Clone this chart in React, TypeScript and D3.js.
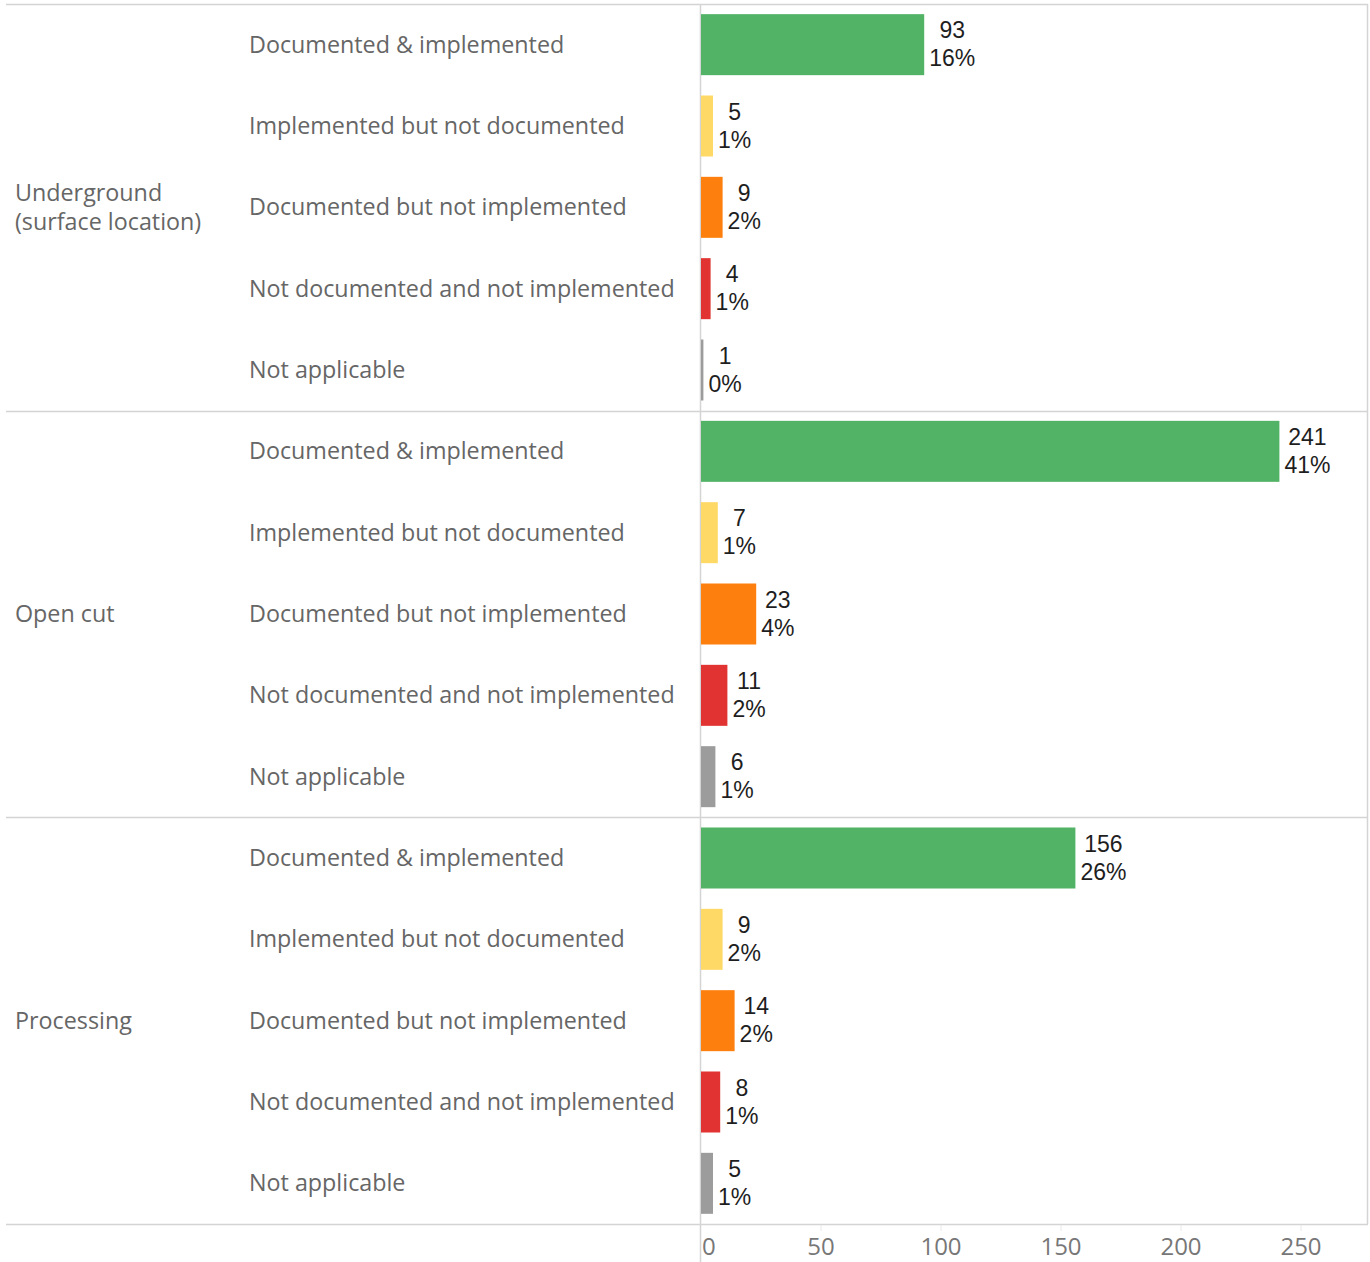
import { useEffect, useRef } from "react";
import * as d3 from "d3";

const groups = ["Underground|(surface location)", "Open cut", "Processing"];
const statuses = [
  "Documented & implemented",
  "Implemented but not documented",
  "Documented but not implemented",
  "Not documented and not implemented",
  "Not applicable",
];
const colors = ["#52b265", "#ffd966", "#fd7f0e", "#e03332", "#9c9c9c"];
const undergroundValues = [93, 5, 9, 4, 1];
const openCutValues = [241, 7, 23, 11, 6];
const processingValues = [156, 9, 14, 8, 5];
const axisTicks = [0, 50, 100, 150, 200, 250];

const W = 1370;
const H = 1262;

export default function App() {
  const ref = useRef<SVGSVGElement | null>(null);

  useEffect(() => {
    document.body.style.margin = "0";
    if (!ref.current) return;
    const svg = d3.select(ref.current);
    svg.selectAll("*").remove();

    const seriesByGroup = [undergroundValues, openCutValues, processingValues];
    const total = d3.sum(seriesByGroup.flat());

    const top = 4;
    const bottom = 1224;
    const left = 6;
    const right = 1367;

    const x = d3.scaleLinear().domain([0, 277.5]).range([701, right]);
    const yGroup = d3.scaleBand().domain(groups).range([top, bottom]);
    const yRow = d3
      .scaleBand()
      .domain(statuses)
      .range([0, yGroup.bandwidth()])
      .paddingInner(0.25)
      .paddingOuter(0.125);

    const lineColor = "#d4d4d4";

    // separators
    svg.append("g")
      .selectAll("line")
      .data([top, ...groups.map((g) => yGroup(g)! + yGroup.bandwidth())])
      .join("line")
      .attr("x1", left)
      .attr("x2", right + 1)
      .attr("y1", (d) => Math.round(d) + 0.5)
      .attr("y2", (d) => Math.round(d) + 0.5)
      .attr("stroke", lineColor)
      .attr("stroke-width", 1.5);

    // zero line & right border
    svg.append("line")
      .attr("x1", x(0) - 0.5).attr("x2", x(0) - 0.5)
      .attr("y1", top).attr("y2", H)
      .attr("stroke", lineColor).attr("stroke-width", 1.5);
    svg.append("line")
      .attr("x1", right + 0.5).attr("x2", right + 0.5)
      .attr("y1", top).attr("y2", bottom)
      .attr("stroke", lineColor).attr("stroke-width", 1.5);

    const labelFont = "'Open Sans', sans-serif";
    const labelColor = "#666666";
    const labelSize = 23.3;

    // group labels
    svg.append("g")
      .selectAll("text")
      .data(groups)
      .join("text")
      .attr("x", 15)
      .attr("y", (g) => yGroup(g)! + yGroup.bandwidth() / 2)
      .attr("font-family", labelFont)
      .attr("font-size", labelSize)
      .attr("fill", labelColor)
      .each(function (g) {
        const lines = g.split("|");
        const t = d3.select(this);
        lines.forEach((l, i) => {
          t.append("tspan")
            .attr("x", 15)
            .attr("dy", i === 0 ? `${0.35 - (lines.length - 1) * 0.62}em` : "1.24em")
            .text(l);
        });
      });

    groups.forEach((g, gi) => {
      const values = seriesByGroup[gi];
      const gy = yGroup(g)!;
      const row = svg.append("g").attr("transform", `translate(0,${gy})`);

      row.selectAll("text.cat")
        .data(statuses)
        .join("text")
        .attr("class", "cat")
        .attr("x", 249)
        .attr("y", (s) => yRow(s)! + yRow.bandwidth() / 2)
        .attr("dy", "0.35em")
        .attr("font-family", labelFont)
        .attr("font-size", labelSize)
        .attr("fill", labelColor)
        .text((s) => s);

      row.selectAll("rect")
        .data(values)
        .join("rect")
        .attr("x", x(0))
        .attr("y", (_, i) => yRow(statuses[i])!)
        .attr("width", (v) => Math.max(1.5, x(v) - x(0)))
        .attr("height", yRow.bandwidth())
        .attr("fill", (_, i) => colors[i]);

      // value labels: count and share, centred on each other
      row.selectAll("g.val")
        .data(values)
        .join("g")
        .attr("class", "val")
        .each(function (v, i) {
          const grp = d3.select(this);
          const cy = yRow(statuses[i])! + yRow.bandwidth() / 2;
          const t1 = grp.append("text")
            .attr("y", cy - 14.5)
            .attr("dy", "0.35em")
            .attr("text-anchor", "middle")
            .attr("font-family", "'Liberation Sans', Arial, sans-serif")
            .attr("font-size", 23)
            .attr("fill", "#1e1e1e")
            .text(v);
          const t2 = grp.append("text")
            .attr("y", cy + 13.5)
            .attr("dy", "0.35em")
            .attr("text-anchor", "middle")
            .attr("font-family", "'Liberation Sans', Arial, sans-serif")
            .attr("font-size", 23)
            .attr("fill", "#1e1e1e")
            .text(`${Math.round((v / total) * 100)}%`);
          const w = Math.max(
            (t1.node() as SVGTextElement).getComputedTextLength(),
            (t2.node() as SVGTextElement).getComputedTextLength()
          );
          const cx = x(v) + 5 + w / 2;
          t1.attr("x", cx);
          t2.attr("x", cx);
        });
    });

    // axis
    const axis = svg.append("g");
    axis.selectAll("line")
      .data(axisTicks.slice(1))
      .join("line")
      .attr("x1", (d) => x(d)).attr("x2", (d) => x(d))
      .attr("y1", bottom + 1).attr("y2", bottom + 7)
      .attr("stroke", "#e8e8e8");
    axis.selectAll("text")
      .data(axisTicks)
      .join("text")
      .attr("x", (d) => (d === 0 ? x(0) + 1 : x(d)))
      .attr("y", 1247)
      .attr("dy", "0.35em")
      .attr("text-anchor", (d) => (d === 0 ? "start" : "middle"))
      .attr("font-family", labelFont)
      .attr("font-size", 24)
      .attr("fill", "#777")
      .text((d) => d);
  }, []);

  return <svg ref={ref} width={W} height={H} style={{ display: "block" }} />;
}
